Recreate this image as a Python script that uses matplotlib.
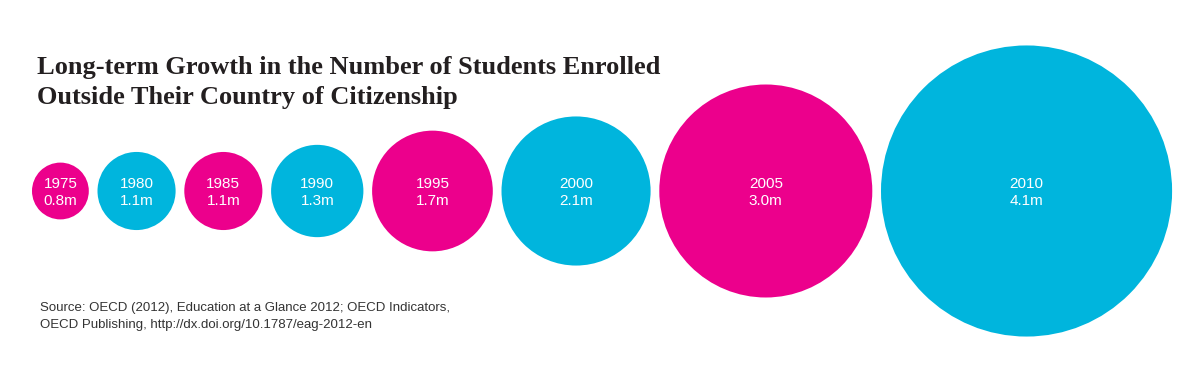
import matplotlib
matplotlib.use("Agg")
import matplotlib.pyplot as plt
from matplotlib.patches import Circle

years = [1975, 1980, 1985, 1990, 1995, 2000, 2005, 2010]
students_m = [0.8, 1.1, 1.1, 1.3, 1.7, 2.1, 3.0, 4.1]
colors = ["#EC008C", "#00B5DD"]

title = "Long-term Growth in the Number of Students Enrolled\nOutside Their Country of Citizenship"
source = ("Source: OECD (2012), Education at a Glance 2012; OECD Indicators,\n"
          "OECD Publishing, http://dx.doi.org/10.1787/eag-2012-en")

W, H = 1200, 386
fig = plt.figure(figsize=(W / 100, H / 100), dpi=100)
ax = fig.add_axes([0, 0, 1, 1])
ax.set_xlim(0, W)
ax.set_ylim(H, 0)
ax.axis("off")

px_per_m = 71.0
gap = 8.7
x = 32.0
cy = 191.0
for i, (yr, v) in enumerate(zip(years, students_m)):
    d = v * px_per_m
    cx = x + d / 2
    ax.add_patch(Circle((cx, cy), d / 2, facecolor=colors[i % 2], edgecolor="none"))
    ax.text(cx, cy - 7, str(yr), color="white", ha="center", va="center",
            fontsize=11, family="Liberation Sans")
    ax.text(cx, cy + 10, f"{v:.1f}m", color="white", ha="center", va="center",
            fontsize=11, family="Liberation Sans")
    x += d + gap

ax.text(37, 56, title, ha="left", va="top", fontsize=19, family="Liberation Serif",
        fontweight="bold", color="#231F20", linespacing=1.4)
ax.text(40, 302, source, ha="left", va="top", fontsize=9.5, family="Liberation Sans",
        color="#333333", linespacing=1.55)

fig.savefig("out.png", dpi=100, facecolor="white")
